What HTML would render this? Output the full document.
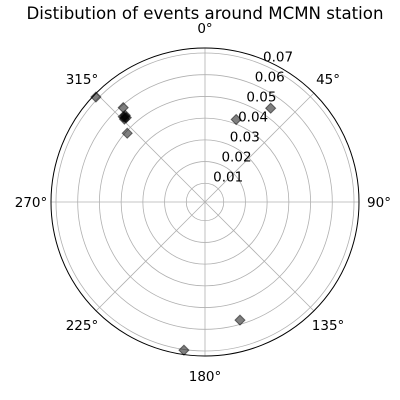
<!DOCTYPE html>
<html><head><meta charset="utf-8"><style>
html,body{margin:0;padding:0;background:#fff;}
svg{display:block;font-family:"DejaVu Sans","Liberation Sans",sans-serif;}
</style></head><body>
<svg id="chart" width="400" height="400" viewBox="0 0 400 400">
<text x="205" y="19" text-anchor="middle" font-size="16.5" textLength="357" lengthAdjust="spacingAndGlyphs">Distibution of events around MCMN station</text>
<g id="grid"></g><g id="labels"></g><g id="marks"></g>
</svg>
<script>
const angleDeg = [313.9, 319.1, 316.6, 315.8, 317.4, 316.2, 317.0, 311.5, 20.7, 35.0, 163.5, 188.1];
const radiusVals = [0.0711, 0.0589, 0.0551, 0.0546, 0.0556, 0.0558, 0.0545, 0.0492, 0.042, 0.0541, 0.0581, 0.0703];
const rTicks = [0.01, 0.02, 0.03, 0.04, 0.05, 0.06, 0.07];
const rTickLabels = ["0.01","0.02","0.03","0.04","0.05","0.06","0.07"];
const thetaTicks = [0, 45, 90, 135, 180, 225, 270, 315];
const thetaLabels = ["0°","45°","90°","135°","180°","225°","270°","315°"];
const rMax = 0.0723;
const cx = 205, cy = 202, R = 154;
const NS = "http://www.w3.org/2000/svg";
function rScale(v){ return Math.max(0, -3 + (R + 3) * v / rMax); }
function pt(deg, r){ const a = deg*Math.PI/180; return [cx + r*Math.sin(a), cy - r*Math.cos(a)]; }
function mk(tag, attrs, parent){ const e=document.createElementNS(NS,tag); for(const k in attrs) e.setAttribute(k,attrs[k]); parent.appendChild(e); return e; }
const grid=document.getElementById('grid'), labels=document.getElementById('labels'), marks=document.getElementById('marks');
rTicks.forEach((v,i)=>{
  const c=mk('circle',{cx:cx,cy:cy,r:rScale(v),fill:'none',stroke:'#b0b0b0','stroke-width':0.8},grid);
  
  
  const p=pt(22.5,rScale(v));
  const t=mk('text',{x:p[0]+1,y:p[1]-3,'font-size':13.5},labels);
  t.textContent=rTickLabels[i];
  
  
});
thetaTicks.forEach((d,i)=>{
  const p=pt(d,R);
  const l=mk('line',{x1:cx,y1:cy,x2:p[0],y2:p[1],stroke:'#b0b0b0','stroke-width':0.8},grid);
  
  
  const q=pt(d,R+20);
  const t=mk('text',{x:q[0],y:q[1]+5,'font-size':13.5,'text-anchor':'middle'},labels);
  t.textContent=thetaLabels[i];
  
  
});
const outer=mk('circle',{cx:cx,cy:cy,r:R,fill:'none',stroke:'#000','stroke-width':1},grid);


angleDeg.forEach((d,i)=>{
  const p=pt(d,rScale(radiusVals[i])); const s=5;
  const m=mk('polygon',{points:`${p[0]},${p[1]-s} ${p[0]+s},${p[1]} ${p[0]},${p[1]+s} ${p[0]-s},${p[1]}`,fill:'rgba(0,0,0,0.5)',stroke:'rgba(0,0,0,0.5)','stroke-width':1},marks);
  
  
});
</script>
</body></html>
